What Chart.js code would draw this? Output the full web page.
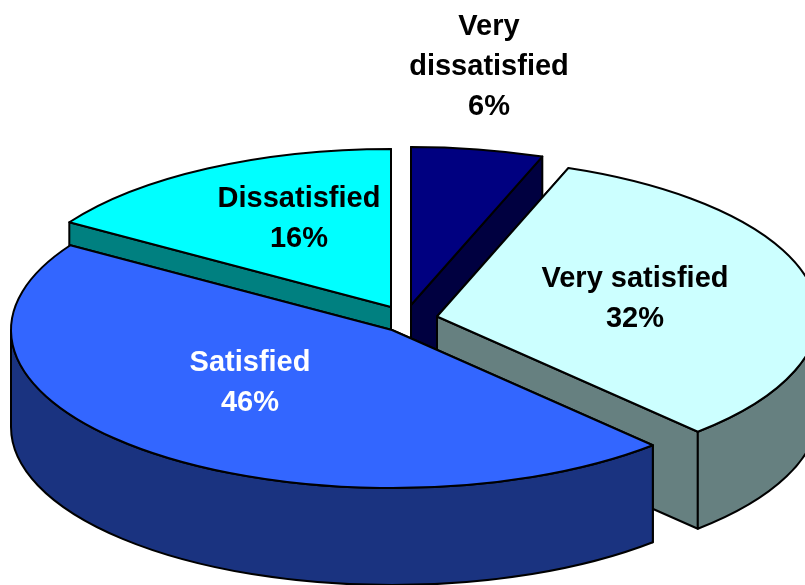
<!DOCTYPE html>
<html>
<head>
<meta charset="utf-8">
<style>
    html, body { margin: 0; padding: 0; background: #fff; }
    canvas { display: block; }
</style>
<script src="https://cdn.jsdelivr.net/npm/chart.js@4/dist/chart.umd.min.js"></script>
</head>
<body>
<canvas id="chart" width="805" height="585"></canvas>
<script>
// ===== DATA =====
const categories = ['Dissatisfied', 'Very dissatisfied', 'Very satisfied', 'Satisfied'];
// slice sizes estimated from the angles in the picture, printed rounded
const shares = [16, 5.6, 32.4, 46];
const labelLines = [['Dissatisfied'], ['Very', 'dissatisfied'], ['Very satisfied'], ['Satisfied']];

// ===== STYLE =====
const topColors = ['#00FFFF', '#000080', '#CCFFFF', '#3366FF'];
const wallColors = ['#008080', '#000040', '#668080', '#1A3380'];
const labelColors = ['#000', '#000', '#000', '#fff'];
const labelX = [299, 489, 635, 250];
const labelY = [199, 27, 279, 363];
// where each exploded slice has its tip
const tipX = [391, 411, 437, 392];
const tipY = [307, 305, 316.5, 330];
const radius = 381;
const squash = 0.415;
const depth = 97;
const lineHeight = 40;

// ===== 3D PIE CONTROLLER =====
class Pie3DController extends Chart.PieController {
    draw() {
        const ctx = this.chart.ctx;
        this.getMeta().data.forEach((arc, i) => {
            const cx = tipX[i];
            const cy = tipY[i];
            drawWalls(ctx, arc, cx, cy, wallColors[i]);

            // top face comes from the library arc, flattened into an ellipse
            ctx.save();
            ctx.translate(cx, cy);
            ctx.scale(1, squash);
            ctx.translate(-arc.x, -arc.y);
            arc.draw(ctx);
            ctx.restore();

            ctx.beginPath();
            ctx.moveTo(cx, cy);
            ctx.ellipse(cx, cy, arc.outerRadius, arc.outerRadius * squash, 0, arc.startAngle, arc.endAngle);
            ctx.closePath();
            ctx.stroke();
        });
    }
}
Pie3DController.id = 'pie3d';
Pie3DController.defaults = Chart.PieController.defaults;
Chart.register(Pie3DController);

function drawWalls(ctx, arc, cx, cy, color) {
    const rx = arc.outerRadius;
    const ry = rx * squash;
    ctx.fillStyle = color;
    ctx.strokeStyle = '#000';
    ctx.lineWidth = 2;
    ctx.lineJoin = 'round';

    // cut faces
    [arc.startAngle, arc.endAngle].forEach(a => {
        const ex = cx + Math.cos(a) * rx;
        const ey = cy + Math.sin(a) * ry;
        ctx.beginPath();
        ctx.moveTo(cx, cy);
        ctx.lineTo(ex, ey);
        ctx.lineTo(ex, ey + depth);
        ctx.lineTo(cx, cy + depth);
        ctx.closePath();
        ctx.fill();
        ctx.stroke();
    });

    // rim, only the part facing the viewer
    for (let k = -1; k <= 1; k++) {
        const from = Math.max(arc.startAngle, 2 * Math.PI * k);
        const to = Math.min(arc.endAngle, Math.PI + 2 * Math.PI * k);
        if (to <= from) continue;
        ctx.beginPath();
        ctx.ellipse(cx, cy, rx, ry, 0, from, to);
        ctx.ellipse(cx, cy + depth, rx, ry, 0, to, from, true);
        ctx.closePath();
        ctx.fill();
        ctx.stroke();
    }
}

// ===== LABELS =====
const sliceLabels = {
    id: 'sliceLabels',
    afterDatasetsDraw(chart) {
        const ctx = chart.ctx;
        ctx.save();
        ctx.font = 'bold 29px "Liberation Sans", Arial, sans-serif';
        ctx.textAlign = 'center';
        ctx.textBaseline = 'middle';
        categories.forEach((name, i) => {
            const lines = labelLines[i].concat(Math.round(shares[i]) + '%');
            ctx.fillStyle = labelColors[i];
            lines.forEach((line, n) => ctx.fillText(line, labelX[i], labelY[i] + n * lineHeight));
        });
        ctx.restore();
    }
};

new Chart(document.getElementById('chart'), {
    type: 'pie3d',
    data: {
        labels: categories,
        datasets: [{
            data: shares,
            backgroundColor: topColors,
            borderWidth: 0,
            rotation: -57.6,
            radius: radius
        }]
    },
    options: {
        responsive: false,
        animation: false,
        events: [],
        plugins: { legend: { display: false }, tooltip: { enabled: false } }
    },
    plugins: [sliceLabels]
});
</script>
</body>
</html>
